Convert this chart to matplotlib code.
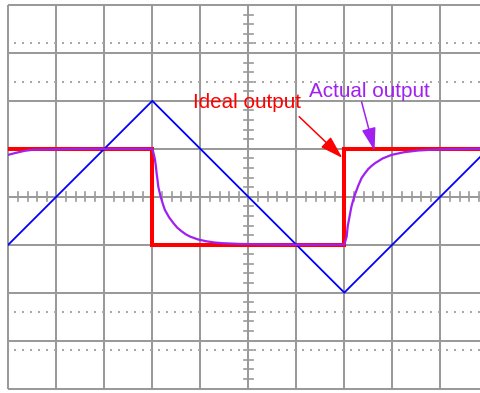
import numpy as np
import matplotlib
matplotlib.use("Agg")
import matplotlib.pyplot as plt
from matplotlib.patches import ArrowStyle

# ---- data (in screen divisions) ----
triangle_x = [0, 3, 7, 10]
triangle_y = [-1, 2, -2, 1]

ideal_x = [0, 3, 3, 7, 7, 10]
ideal_y = [1, 1, -1, -1, 1, 1]

actual_x = [0.0, 0.175, 0.35, 0.51, 0.75, 1.0, 1.5, 3.0,
            3.02, 3.04, 3.056, 3.075, 3.09, 3.11, 3.125, 3.15, 3.175, 3.22, 3.26, 3.35, 3.44,
            3.52, 3.61, 3.70, 3.785, 3.95, 4.13, 4.3, 4.48, 4.83, 5.17, 6.0, 7.0,
            7.02, 7.05, 7.07, 7.11, 7.13, 7.15, 7.18, 7.22, 7.29, 7.36, 7.43, 7.5, 7.57,
            7.64, 7.8, 7.99, 8.25, 8.54, 8.8, 9.1, 9.8, 10.0]
actual_y = [0.875, 0.92, 0.96, 0.98, 0.985, 0.99, 1.0, 1.0,
            0.93, 0.85, 0.77, 0.63, 0.49, 0.34, 0.21, 0.10, 0.0, -0.15, -0.27, -0.43, -0.55,
            -0.645, -0.72, -0.785, -0.83, -0.89, -0.93, -0.955, -0.97, -0.985, -0.99, -1.0, -1.0,
            -0.93, -0.83, -0.62, -0.41, -0.30, -0.20, -0.09, 0.04, 0.23, 0.39, 0.49, 0.58, 0.645,
            0.70, 0.80, 0.875, 0.93, 0.965, 0.98, 0.99, 1.0, 1.0]

dotted_levels = [3.2, 2.4, -2.4, -3.2]

ideal_label = "Ideal output"
ideal_label_pos = (3.85, 1.85)
ideal_arrow = ((6.06, 1.67), (6.96, 0.81))
actual_label = "Actual output"
actual_label_pos = (6.27, 2.09)
actual_arrow = ((7.36, 1.98), (7.63, 0.96))

W, H = 481, 393
fig = plt.figure(figsize=(W / 100, H / 100), dpi=100)
left, top, bottom = 8.3, 5.0, 388.5
ax = fig.add_axes([left / W, 1 - bottom / H, 480 / W, (bottom - top) / H])
ax.set_xlim(0, 10)
ax.set_ylim(-4, 4)
ax.axis("off")

grid_c = "#9a9a9a"
gl = 1.45
for x in range(0, 11):
    ax.plot([x, x], [-4, 4], color=grid_c, lw=gl, clip_on=False, zorder=1, solid_capstyle="butt")
for y in range(-4, 5):
    ax.plot([0, 10], [y, y], color=grid_c, lw=gl, clip_on=False, zorder=1, solid_capstyle="butt")

# center cross minor ticks
tl = 4.3 / 48
for t in np.arange(-4, 4.001, 0.2):
    ax.plot([5 - tl, 5 + tl], [t, t], color=grid_c, lw=1.2, zorder=1)
for t in np.arange(0, 10.001, 0.2):
    ax.plot([t, t], [-tl, tl], color=grid_c, lw=1.2, zorder=1)

# dotted lines
dots_x = np.concatenate([c + (np.arange(6) + 0.8) / 6 for c in range(10)])
for lv in dotted_levels:
    ax.scatter(dots_x, np.full_like(dots_x, lv), s=1.6, marker="s", color="#a8a8a8",
               linewidths=0, zorder=1)

ax.plot(ideal_x, ideal_y, color="#ff0000", lw=2.9, zorder=2, solid_joinstyle="miter")
ax.plot(triangle_x, triangle_y, color="#0000ff", lw=1.3, zorder=3)
ax.plot(actual_x, actual_y, color="#a020f0", lw=1.6, zorder=4, solid_joinstyle="round")

font = ["Liberation Sans", "DejaVu Sans"]
ax.text(*ideal_label_pos, ideal_label, color="#ff0000", fontsize=14.9, family=font,
        ha="left", va="baseline", zorder=5)
ax.text(*actual_label_pos, actual_label, color="#a020f0", fontsize=14.9, family=font,
        ha="left", va="baseline", zorder=5)

style = ArrowStyle("-|>", head_length=14, head_width=4.3)
ax.annotate("", xy=ideal_arrow[1], xytext=ideal_arrow[0],
            arrowprops=dict(arrowstyle=style, color="#ff0000", lw=1.1, shrinkA=0, shrinkB=0,
                            mutation_scale=1), zorder=5)
ax.annotate("", xy=actual_arrow[1], xytext=actual_arrow[0],
            arrowprops=dict(arrowstyle=style, color="#a020f0", lw=1.1, shrinkA=0, shrinkB=0,
                            mutation_scale=1), zorder=5)

fig.savefig("out.png", dpi=100)
